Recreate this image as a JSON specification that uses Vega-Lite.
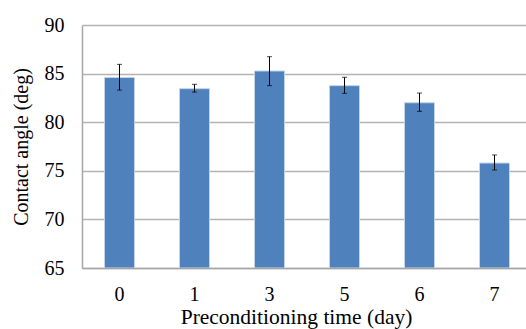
{
  "$schema": "https://vega.github.io/schema/vega-lite/v6.json",
  "autosize": "none",
  "width": 444,
  "height": 243,
  "padding": {"left": 82, "top": 25, "right": 0, "bottom": 61},
  "background": "white",
  "config": {
    "view": {"stroke": null},
    "font": "Liberation Serif"
  },
  "data": {
    "values": [
      {"day": "0", "angle": 84.6, "lo": 83.3, "hi": 85.95},
      {"day": "1", "angle": 83.45, "lo": 83.1, "hi": 83.9},
      {"day": "3", "angle": 85.27, "lo": 83.76, "hi": 86.74},
      {"day": "5", "angle": 83.76, "lo": 82.97, "hi": 84.62},
      {"day": "6", "angle": 82.0, "lo": 81.12, "hi": 83.0},
      {"day": "7", "angle": 75.8, "lo": 75.08, "hi": 76.63}
    ]
  },
  "encoding": {
    "x": {
      "field": "day", "type": "nominal", "sort": null,
      "scale": {"range": [0, 450], "paddingInner": 0.6, "paddingOuter": 0.3},
      "axis": {
        "title": "Preconditioning time (day)", "labelAngle": 0, "labelFontSize": 20, "titleFontSize": 21.5,
        "labelFont": "Liberation Serif", "titleFont": "Liberation Serif", "labelColor": "#000", "titleColor": "#000", "titleFontWeight": "normal",
        "ticks": false, "labelPadding": 16,
        "titleX": 214, "titleY": 55.5, "titleBaseline": "alphabetic", "titleAlign": "center",
        "domainColor": "#a6a6a6", "domainWidth": 1.5
      }
    }
  },
  "layer": [
    {
      "mark": {"type": "bar", "color": "#4f81bd", "stroke": "#c3d4ea", "strokeWidth": 1, "clip": true},
      "encoding": {
        "y": {
          "field": "angle", "type": "quantitative",
          "scale": {"domain": [65, 90], "nice": false, "zero": false},
          "axis": {
            "title": "Contact angle (deg)", "values": [65, 70, 75, 80, 85, 90],
            "labelFont": "Liberation Serif", "titleFont": "Liberation Serif", "labelColor": "#000", "titleColor": "#000", "titleFontWeight": "normal",
            "labelFontSize": 20, "titleFontSize": 20, "ticks": false, "labelPadding": 18, "titlePadding": 13,
            "gridColor": "#b3b3b3", "gridWidth": 1.5, "domainColor": "#a6a6a6", "domainWidth": 1.5
          }
        },
        "y2": {"datum": 65}
      }
    },
    {
      "mark": {"type": "rule", "color": "#000", "strokeWidth": 1},
      "encoding": {
        "y": {"field": "lo", "type": "quantitative"},
        "y2": {"field": "hi"}
      }
    },
    {
      "mark": {"type": "tick", "color": "#000", "size": 5, "thickness": 1},
      "encoding": {"y": {"field": "lo", "type": "quantitative"}}
    },
    {
      "mark": {"type": "tick", "color": "#000", "size": 5, "thickness": 1},
      "encoding": {"y": {"field": "hi", "type": "quantitative"}}
    }
  ]
}
